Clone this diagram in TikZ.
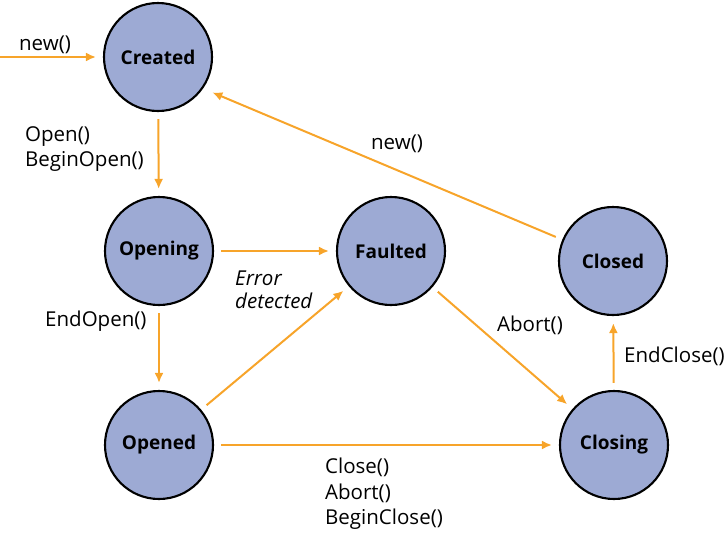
\documentclass[tikz,border=0pt]{standalone}
\usepackage{fontspec}
\setmainfont{Open Sans}
\usetikzlibrary{arrows.meta}
\definecolor{statefill}{HTML}{9DAAD4}
\definecolor{transorange}{HTML}{F7A42A}
\tikzset{
  state/.style={circle, draw=black, line width=2.1pt, fill=statefill,
    minimum size=108pt, inner sep=0pt, font=\fontsize{19}{23}\selectfont\bfseries},
  trans/.style={draw=transorange, line width=2pt,
    -{Latex[length=10pt,width=9pt]}, shorten >=7pt, shorten <=7pt},
  lbl/.style={font=\fontsize{20.5}{25.5}\selectfont, align=left, inner sep=0pt},
  ilbl/.style={lbl, font=\fontsize{20.5}{23}\selectfont\itshape}
}
\begin{document}
\begin{tikzpicture}[x=1pt,y=-1pt]
  \useasboundingbox (0,0) rectangle (726,533);
  % states
  \node [state] (created) at (158,57) {Created};
  \node [state] (opening) at (159,251) {Opening};
  \node [state] (faulted) at (391,251) {Faulted};
  \node [state] (opened) at (159,445) {Opened};
  \node [state] (closing) at (614,445) {Closing};
  \node [state] (closed) at (613,261) {Closed};
  \coordinate (entry) at (0,57);
  % transitions
  \draw [trans, shorten <=0pt] (entry) -- (created);
  \draw [trans] (created) -- (opening);
  \draw [trans] (opening) -- (faulted);
  \draw [trans] (opening) -- (opened);
  \draw [trans] (opened) -- (faulted);
  \draw [trans] (opened) -- (closing);
  \draw [trans] (faulted) -- (closing);
  \draw [trans] (closing) -- (closed);
  \draw [trans, shorten >=10pt] (closed) -- (created.-35);
  % labels
  \node [lbl, anchor=south] (newin) at (45,54) {new()};
  \node [lbl, anchor=north west] (openlbl) at (25,126) {Open()\\BeginOpen()};
  \node [ilbl, anchor=north west] (errlbl) at (235,271) {Error\\detected};
  \node [lbl, anchor=west] (endopenlbl) at (45,321) {EndOpen()};
  \node [lbl, anchor=north west] (closelbl) at (325,458) {Close()\\Abort()\\BeginClose()};
  \node [lbl, anchor=west] (abortlbl) at (497,325) {Abort()};
  \node [lbl, anchor=west] (endcloselbl) at (624,356) {EndClose()};
  \node [lbl] (newlbl) at (397,144) {new()};
\end{tikzpicture}
\end{document}
